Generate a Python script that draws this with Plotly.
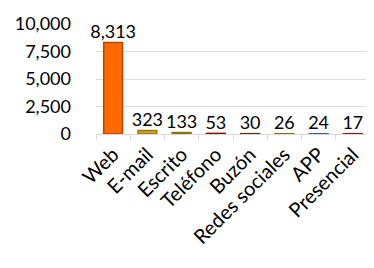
import plotly.graph_objects as go

categories = ["Web", "E-mail", "Escrito", "Teléfono", "Buzón", "Redes sociales", "APP", "Presencial"]
values = [8313, 323, 133, 53, 30, 26, 24, 17]
colors = ["#FF6A00", "#C9A227", "#B8960C", "#C00000", "#8B4513", "#B8960C", "#4F81BD", "#E60000"]
edge_colors = ["#B34700", "#9C7A10", "#8C7008", "#900000", "#5E2E0C", "#8C7008", "#36608F", "#A00000"]
y_ticks = [0, 2500, 5000, 7500, 10000]

fig = go.Figure()
fig.add_trace(go.Bar(
    x=categories, y=values,
    marker=dict(color=colors, line=dict(color=edge_colors, width=1.5)),
    width=0.55, hoverinfo="x+y",
))
fig.add_trace(go.Scatter(
    x=categories, y=values, mode="text",
    text=[f"{v:,}" for v in values], textposition="top center",
    textfont=dict(family="Lato", size=18, color="black"),
    cliponaxis=False, hoverinfo="skip",
))

fig.update_layout(
    width=366, height=260,
    margin=dict(l=88, r=4, t=16, b=134),
    paper_bgcolor="white", plot_bgcolor="white",
    font=dict(family="Lato", size=18, color="black"),
    showlegend=False,
    xaxis=dict(tickangle=-45, showline=True, linecolor="#D9D9D9", linewidth=1,
               ticks="outside", tickson="boundaries", tickcolor="#D9D9D9", ticklen=5,
               tickfont=dict(size=20), automargin=False),
    yaxis=dict(range=[0, 10000], tickvals=y_ticks, tickformat=",",
               showgrid=True, gridcolor="#DDDDDD", zeroline=False,
               tickfont=dict(size=18), ticklabelstandoff=24, automargin=False),
)

fig.write_html("out.html")
